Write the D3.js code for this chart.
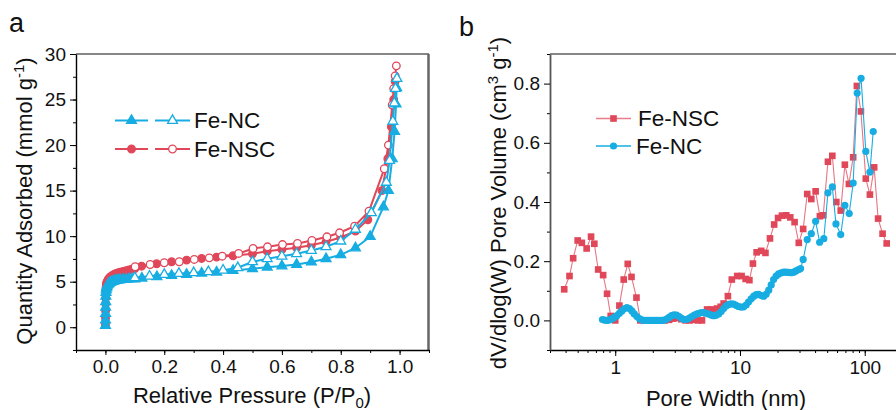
<!DOCTYPE html>
<html>
<head>
<meta charset="utf-8">
<script src="https://cdn.jsdelivr.net/npm/d3@7/dist/d3.min.js"></script>
<style>
  body { margin: 0; background: #fff; }
  svg { display: block; font-family: "Liberation Sans", Arial, sans-serif; }
  .tick text { font-size: 19px; fill: #111; }
</style>
</head>
<body>
<svg id="chart" width="896" height="410"></svg>
<script>
// ---- panel a : N2 isotherms ----
const ncAdsP = [0.0002, 0.0004, 0.0006, 0.0008, 0.001, 0.0015, 0.002, 0.003, 0.004, 0.005, 0.007, 0.01, 0.013, 0.016, 0.02, 0.025, 0.03, 0.035, 0.04, 0.045, 0.05, 0.06, 0.07, 0.08, 0.09, 0.1, 0.124, 0.175, 0.225, 0.276, 0.327, 0.378, 0.434, 0.5, 0.55, 0.6, 0.65, 0.7, 0.75, 0.8, 0.85, 0.9, 0.945, 0.962, 0.975, 0.983, 0.988, 0.99];
const ncAdsQ = [0.2, 0.8, 1.5, 2.2, 2.8, 3.4, 3.8, 4.1, 4.3, 4.45, 4.6, 4.72, 4.82, 4.9, 4.97, 5.03, 5.08, 5.12, 5.15, 5.18, 5.2, 5.24, 5.27, 5.3, 5.32, 5.3, 5.38, 5.55, 5.68, 5.79, 5.93, 6.04, 6.22, 6.42, 6.59, 6.72, 6.9, 7.17, 7.52, 7.95, 8.7, 9.95, 13.2, 15.0, 18.5, 21.5, 24.5, 26.3];
const ncDesP = [0.991, 0.986, 0.982, 0.977, 0.966, 0.955, 0.904, 0.85, 0.8, 0.75, 0.7, 0.65, 0.6, 0.55, 0.5, 0.45, 0.4, 0.35, 0.3, 0.25, 0.2, 0.15, 0.1];
const ncDesQ = [27.3, 26.2, 24.6, 22.6, 18.3, 15.9, 12.57, 10.74, 9.45, 8.84, 8.43, 8.07, 7.8, 7.52, 7.19, 6.53, 6.26, 6.09, 5.98, 5.9, 5.79, 5.6, 5.43];
const nscAdsP = [0.0002, 0.0004, 0.0006, 0.0008, 0.001, 0.0015, 0.002, 0.003, 0.004, 0.005, 0.007, 0.01, 0.013, 0.016, 0.02, 0.025, 0.03, 0.035, 0.04, 0.045, 0.05, 0.06, 0.07, 0.08, 0.09, 0.1, 0.123, 0.174, 0.225, 0.276, 0.327, 0.378, 0.434, 0.5, 0.55, 0.6, 0.65, 0.7, 0.75, 0.8, 0.85, 0.892, 0.94, 0.96, 0.972, 0.98, 0.985];
const nscAdsQ = [0.3, 1.0, 1.8, 2.6, 3.2, 3.9, 4.3, 4.6, 4.8, 4.95, 5.1, 5.28, 5.4, 5.5, 5.6, 5.7, 5.8, 5.87, 5.93, 5.98, 6.03, 6.12, 6.2, 6.3, 6.38, 6.45, 6.7, 6.97, 7.19, 7.37, 7.55, 7.7, 7.85, 8.07, 8.35, 8.54, 8.73, 9.0, 9.38, 9.85, 10.55, 11.8, 15.0, 18.5, 22.0, 25.0, 27.0];
const nscDesP = [0.989, 0.985, 0.98, 0.975, 0.962, 0.948, 0.896, 0.847, 0.796, 0.753, 0.702, 0.653, 0.602, 0.551, 0.502, 0.453, 0.397, 0.353, 0.302, 0.251, 0.2, 0.152, 0.101];
const nscDesQ = [28.7, 27.6, 26.2, 24.4, 20.0, 17.4, 12.75, 11.1, 10.37, 9.93, 9.53, 9.2, 9.08, 8.83, 8.65, 8.1, 7.8, 7.62, 7.44, 7.19, 7.08, 6.89, 6.64];

// ---- panel b : pore size distribution ----
const nscWidth = [0.39, 0.43, 0.46, 0.50, 0.54, 0.59, 0.64, 0.68, 0.73, 0.80, 0.86, 0.92, 1.00, 1.08, 1.17, 1.26, 1.35, 1.48, 1.59, 1.71, 1.85, 1.99, 2.15, 2.32, 2.50, 2.70, 2.91, 3.14, 3.39, 3.66, 3.95, 4.26, 4.60, 4.96, 5.45, 5.98, 6.55, 7.0, 7.4, 8.0, 8.6, 9.5, 10.3, 11.1, 11.9, 12.7, 13.6, 14.8, 16.0, 17.4, 18.8, 20.2, 21.7, 23.5, 25.3, 27.4, 29.6, 32.1, 34.6, 37.3, 40.4, 43.7, 46.5, 50.7, 55.0, 59.2, 64.2, 69.3, 74.7, 80.8, 86.5, 93.2, 102, 110, 119, 128, 139, 150];
const nscVol = [0.105, 0.150, 0.210, 0.270, 0.262, 0.243, 0.283, 0.259, 0.172, 0.153, 0.090, 0.015, 0.000, 0.050, 0.138, 0.191, 0.147, 0.077, 0.000, 0.000, 0.000, 0.000, 0.000, 0.000, 0.000, 0.002, 0.006, 0.008, 0.004, 0.000, 0.000, 0.002, 0.000, 0.000, 0.037, 0.037, 0.040, 0.046, 0.057, 0.082, 0.138, 0.150, 0.150, 0.140, 0.136, 0.192, 0.230, 0.235, 0.228, 0.277, 0.324, 0.346, 0.354, 0.355, 0.348, 0.332, 0.262, 0.309, 0.427, 0.410, 0.436, 0.352, 0.355, 0.536, 0.556, 0.400, 0.371, 0.526, 0.461, 0.551, 0.792, 0.706, 0.479, 0.425, 0.517, 0.344, 0.293, 0.260];
const ncWidth = [0.79, 0.82, 0.86, 0.90, 0.94, 0.98, 1.03, 1.08, 1.13, 1.18, 1.24, 1.30, 1.36, 1.42, 1.49, 1.56, 1.63, 1.71, 1.79, 1.87, 1.96, 2.05, 2.15, 2.25, 2.36, 2.47, 2.58, 2.70, 2.83, 2.96, 3.10, 3.25, 3.40, 3.56, 3.73, 3.90, 4.08, 4.27, 4.47, 4.68, 4.90, 5.13, 5.37, 5.62, 5.88, 6.16, 6.45, 6.75, 7.07, 7.40, 7.75, 8.11, 8.49, 8.89, 9.31, 9.74, 10.2, 10.7, 11.2, 11.7, 12.3, 12.9, 13.5, 14.1, 14.8, 15.5, 16.2, 17.0, 17.8, 18.6, 19.5, 20.4, 21.4, 22.4, 23.4, 24.5, 25.7, 26.9, 28.1, 29.5, 30.6, 32.1, 34.6, 37.3, 40.4, 43.5, 47.0, 50.7, 55.0, 58.8, 64.2, 69.3, 75.1, 80.8, 87.0, 93.5, 102, 110, 117];
const ncVol = [0.003, 0.001, 0.000, 0.002, 0.005, 0.010, 0.016, 0.024, 0.032, 0.039, 0.043, 0.040, 0.032, 0.022, 0.013, 0.006, 0.002, 0.000, 0.000, 0.000, 0.000, 0.000, 0.000, 0.000, 0.000, 0.001, 0.004, 0.010, 0.016, 0.019, 0.018, 0.013, 0.007, 0.003, 0.003, 0.007, 0.012, 0.017, 0.021, 0.024, 0.026, 0.026, 0.024, 0.021, 0.018, 0.016, 0.017, 0.022, 0.030, 0.040, 0.049, 0.054, 0.056, 0.055, 0.051, 0.047, 0.045, 0.046, 0.052, 0.062, 0.073, 0.082, 0.087, 0.088, 0.084, 0.082, 0.088, 0.102, 0.120, 0.138, 0.150, 0.157, 0.161, 0.163, 0.163, 0.162, 0.161, 0.163, 0.167, 0.172, 0.175, 0.206, 0.273, 0.293, 0.335, 0.264, 0.276, 0.431, 0.451, 0.326, 0.290, 0.389, 0.361, 0.464, 0.768, 0.818, 0.571, 0.501, 0.638];

const pTicks = [0, 0.2, 0.4, 0.6, 0.8, 1.0];
const qTicks = [0, 5, 10, 15, 20, 25, 30];
const wTicks = [1, 10, 100];
const vTicks = [0, 0.2, 0.4, 0.6, 0.8];

const RED = '#e04759';
const BLUE = '#17ade2';

const svg = d3.select('#chart');
const zip = (xs, ys) => xs.map((x, i) => [x, ys[i]]);

// ================= panel a =================
const ax = d3.scaleLinear().domain([-0.1, 1.1]).range([76, 429]);
const ay = d3.scaleLinear().domain([-2.5, 30]).range([350, 54]);
const ga = svg.append('g');

// frame: top + right
ga.append('line').attr('x1', 76).attr('x2', 429).attr('y1', 54).attr('y2', 54)
    .attr('stroke', '#111').attr('stroke-width', 1.2);
ga.append('line').attr('x1', 428.5).attr('x2', 428.5).attr('y1', 54).attr('y2', 351)
    .attr('stroke', '#666').attr('stroke-width', 2.5);

// minor ticks
ga.append('g').attr('transform', 'translate(0,350)')
    .call(d3.axisBottom(ax).tickValues(d3.range(-0.1, 1.11, 0.1)).tickSize(3).tickFormat(''))
    .call(g => g.select('.domain').remove());
ga.append('g').attr('transform', 'translate(76,0)')
    .call(d3.axisLeft(ay).tickValues(d3.range(-2.5, 30.1, 2.5)).tickSize(3).tickFormat(''))
    .call(g => g.select('.domain').remove());
// major ticks
ga.append('g').attr('transform', 'translate(0,350)')
    .call(d3.axisBottom(ax).tickValues(pTicks).tickSize(5).tickSizeOuter(0).tickPadding(5).tickFormat(d3.format('.1f')))
    .call(g => g.select('.domain').attr('stroke-width', 1.4));
ga.append('g').attr('transform', 'translate(76,0)')
    .call(d3.axisLeft(ay).tickValues(qTicks).tickSize(6).tickSizeOuter(0).tickPadding(4))
    .call(g => g.select('.domain').attr('stroke-width', 1.4));

const lineA = d3.line().x(d => ax(d[0])).y(d => ay(d[1]));
const triangle = d3.symbol(d3.symbolTriangle, 42)();

function isoSeries(pts, color, shape, filled) {
    ga.append('path').datum(pts).attr('d', lineA)
        .attr('fill', 'none').attr('stroke', color).attr('stroke-width', 2);
    const sel = ga.append('g').selectAll('.m').data(pts).enter();
    if (shape === 'tri') {
        sel.append('path').attr('d', triangle)
            .attr('transform', d => 'translate(' + ax(d[0]) + ',' + ay(d[1]) + ')')
            .attr('fill', filled ? color : '#fff').attr('stroke', color).attr('stroke-width', 1.3);
    } else {
        sel.append('circle').attr('cx', d => ax(d[0])).attr('cy', d => ay(d[1])).attr('r', 3.8)
            .attr('fill', filled ? color : '#fff').attr('stroke', color).attr('stroke-width', 1.3);
    }
}
isoSeries(zip(nscAdsP, nscAdsQ), RED, 'circ', true);
isoSeries(zip(nscDesP, nscDesQ), RED, 'circ', false);
isoSeries(zip(ncAdsP, ncAdsQ), BLUE, 'tri', true);
isoSeries(zip(ncDesP, ncDesQ), BLUE, 'tri', false);

// legend a
function legA(y, color, shape, label) {
    [[115, 148, true], [155, 190, false]].forEach(([x1, x2, filled]) => {
        ga.append('line').attr('x1', x1).attr('x2', x2).attr('y1', y).attr('y2', y)
            .attr('stroke', color).attr('stroke-width', 2);
        const cx = (x1 + x2) / 2;
        if (shape === 'tri') {
            ga.append('path').attr('d', triangle).attr('transform', 'translate(' + cx + ',' + y + ')')
                .attr('fill', filled ? color : '#fff').attr('stroke', color).attr('stroke-width', 1.3);
        } else {
            ga.append('circle').attr('cx', cx).attr('cy', y).attr('r', 3.8)
                .attr('fill', filled ? color : '#fff').attr('stroke', color).attr('stroke-width', 1.3);
        }
    });
    ga.append('text').attr('x', 194).attr('y', y + 7.5).attr('font-size', 22.5).attr('fill', '#111').text(label);
}
legA(120.5, BLUE, 'tri', 'Fe-NC');
legA(149, RED, 'circ', 'Fe-NSC');

// titles a
const xtA = ga.append('text').attr('x', 252).attr('y', 403).attr('text-anchor', 'middle')
    .attr('font-size', 22).attr('fill', '#111');
xtA.append('tspan').text('Relative Pressure (P/P');
xtA.append('tspan').attr('font-size', 15).attr('dy', 5).text('0');
xtA.append('tspan').attr('dy', -5).text(')');

const ytA = ga.append('text').attr('transform', 'translate(32,201) rotate(-90)').attr('text-anchor', 'middle')
    .attr('font-size', 22).attr('fill', '#111');
ytA.append('tspan').text('Quantity Adsorbed (mmol g');
ytA.append('tspan').attr('font-size', 15).attr('dy', -8).text('-1');
ytA.append('tspan').attr('dy', 8).text(')');

ga.append('text').attr('x', 9).attr('y', 32).attr('font-size', 27).attr('fill', '#111').text('a');

// ================= panel b =================
const bx = d3.scaleLog().domain([0.3, 250]).range([550, 550 + Math.log10(250 / 0.3) * 124.75]);
const by = d3.scaleLinear().domain([-0.1, 0.9]).range([350, 54]);
const gb = svg.append('g');

gb.append('line').attr('x1', 550).attr('x2', 896).attr('y1', 54).attr('y2', 54)
    .attr('stroke', '#111').attr('stroke-width', 1.2);

const minorW = [];
[0.1, 1, 10, 100].forEach(dec => d3.range(1, 10).forEach(k => {
    const v = +(dec * k).toPrecision(3);
    if (v >= 0.3 && v <= 250) minorW.push(v);
}));
gb.append('g').attr('transform', 'translate(0,350)')
    .call(d3.axisBottom(bx).tickValues(minorW).tickSize(3).tickFormat(''))
    .call(g => g.select('.domain').remove());
gb.append('g').attr('transform', 'translate(550,0)')
    .call(d3.axisLeft(by).tickValues([-0.1, 0.1, 0.3, 0.5, 0.7, 0.9]).tickSize(3).tickFormat(''))
    .call(g => g.select('.domain').remove());
gb.append('g').attr('transform', 'translate(0,350)')
    .call(d3.axisBottom(bx).tickValues(wTicks).tickSize(6).tickSizeOuter(0).tickPadding(5).tickFormat(d3.format('d')))
    .call(g => g.select('.domain').attr('stroke-width', 1.4));
gb.append('g').attr('transform', 'translate(550,0)')
    .call(d3.axisLeft(by).tickValues(vTicks).tickSize(6).tickSizeOuter(0).tickPadding(4).tickFormat(d3.format('.1f')))
    .call(g => g.select('.domain').attr('stroke', '#555').attr('stroke-width', 1.8));

const lineB = d3.line().x(d => bx(d[0])).y(d => by(d[1]));
const square = d3.symbol(d3.symbolSquare, 44)();

const nscPts = zip(nscWidth, nscVol);
gb.append('path').datum(nscPts).attr('d', lineB).attr('fill', 'none')
    .attr('stroke', RED).attr('stroke-opacity', 0.75).attr('stroke-width', 1.1);
gb.append('g').selectAll('path').data(nscPts).enter().append('path').attr('d', square)
    .attr('transform', d => 'translate(' + bx(d[0]) + ',' + by(d[1]) + ')').attr('fill', RED);

const ncPts = zip(ncWidth, ncVol);
gb.append('path').datum(ncPts).attr('d', lineB).attr('fill', 'none')
    .attr('stroke', BLUE).attr('stroke-width', 1.1);
gb.append('g').selectAll('circle').data(ncPts).enter().append('circle')
    .attr('cx', d => bx(d[0])).attr('cy', d => by(d[1])).attr('r', 3.6).attr('fill', BLUE);

// legend b
gb.append('line').attr('x1', 596).attr('x2', 631).attr('y1', 118.5).attr('y2', 118.5)
    .attr('stroke', RED).attr('stroke-opacity', 0.7).attr('stroke-width', 1.3);
gb.append('path').attr('d', square).attr('transform', 'translate(613.5,118.5)').attr('fill', RED);
gb.append('text').attr('x', 638).attr('y', 126).attr('font-size', 22.5).attr('fill', '#111').text('Fe-NSC');
gb.append('line').attr('x1', 596).attr('x2', 631).attr('y1', 146).attr('y2', 146)
    .attr('stroke', BLUE).attr('stroke-width', 1.3);
gb.append('circle').attr('cx', 613.5).attr('cy', 146).attr('r', 3.6).attr('fill', BLUE);
gb.append('text').attr('x', 636).attr('y', 153.5).attr('font-size', 22.5).attr('fill', '#111').text('Fe-NC');

// titles b
gb.append('text').attr('x', 726).attr('y', 406).attr('text-anchor', 'middle')
    .attr('font-size', 22).attr('fill', '#111').text('Pore Width (nm)');
const ytB = gb.append('text').attr('transform', 'translate(506,203) rotate(-90)').attr('text-anchor', 'middle')
    .attr('font-size', 22).attr('fill', '#111');
ytB.append('tspan').text('dV/dlog(W) Pore Volume (cm');
ytB.append('tspan').attr('font-size', 15).attr('dy', -8).text('3');
ytB.append('tspan').attr('dy', 8).text(' g');
ytB.append('tspan').attr('font-size', 15).attr('dy', -8).text('-1');
ytB.append('tspan').attr('dy', 8).text(')');

gb.append('text').attr('x', 459).attr('y', 36).attr('font-size', 27).attr('fill', '#111').text('b');
</script>
</body>
</html>
